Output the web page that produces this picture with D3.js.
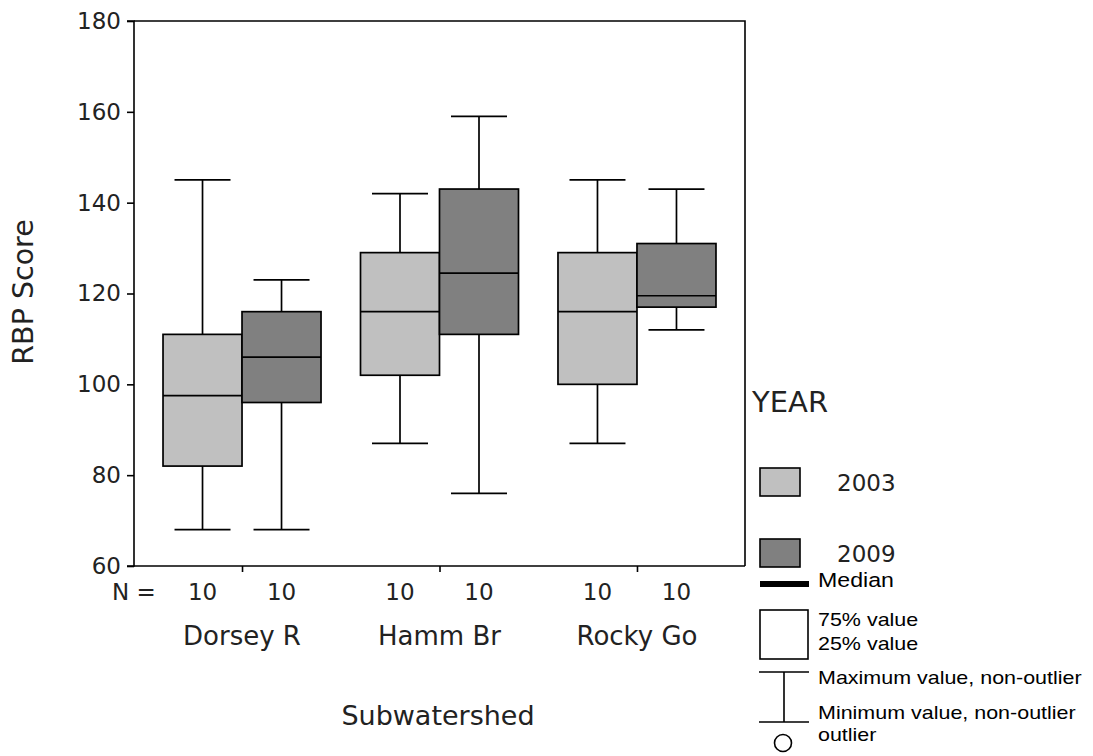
<!DOCTYPE html>
<html>
<head>
<meta charset="utf-8">
<script src="https://cdn.jsdelivr.net/npm/d3@7"></script>
<style>
  body { margin: 0; background: #fff; }
  svg { display: block; }
  .lab { font-family: 'DejaVu Sans', sans-serif; fill: #222; }
  .note { font-family: 'Liberation Sans', Arial, sans-serif; fill: #000; }
</style>
</head>
<body>
<svg></svg>
<script>
var width = 1093;
var height = 756;

// chart values
var subwatersheds = ['Dorsey R', 'Hamm Br', 'Rocky Go'];
var years = ['2003', '2009'];
var nCounts = [[10, 10], [10, 10], [10, 10]];
var lowWhisker = [[68, 68], [87, 76], [87, 112]];
var q1 = [[82, 96], [102, 111], [100, 117]];
var medians = [[97.5, 106], [116, 124.5], [116, 119.5]];
var q3 = [[111, 116], [129, 143], [129, 131]];
var highWhisker = [[145, 123], [142, 159], [145, 143]];
var yTicks = [60, 80, 100, 120, 140, 160, 180];
var yearColors = ['#c0c0c0', '#808080'];

var plotLeft = 134, plotRight = 745, plotTop = 21, plotBottom = 566;

var svg = d3.select('svg')
    .attr('width', width)
    .attr('height', height);

var y = d3.scaleLinear().domain([60, 180]).range([plotBottom, plotTop]);
var x0 = d3.scalePoint().domain(subwatersheds).range([plotLeft, plotRight]).padding(0.547);
var x1 = d3.scaleBand().domain(years).range([-79, 79]);
var color = d3.scaleOrdinal().domain(years).range(yearColors);

// frame (top and right)
svg.append('path')
    .attr('d', 'M' + plotLeft + ',' + plotTop + 'H' + plotRight + 'V' + plotBottom)
    .attr('fill', 'none')
    .attr('stroke', '#000')
    .attr('stroke-width', 1.6);

var yAxis = svg.append('g')
    .attr('transform', 'translate(' + plotLeft + ',0)')
    .call(d3.axisLeft(y).tickValues(yTicks).tickSize(7).tickPadding(6));

var xAxis = svg.append('g')
    .attr('transform', 'translate(0,' + plotBottom + ')')
    .call(d3.axisBottom(x0).tickSize(6).tickFormat(''));

[yAxis, xAxis].forEach(function(ax) {
  ax.select('.domain').attr('stroke', '#000').attr('stroke-width', 1.6);
  ax.selectAll('.tick line').attr('stroke', '#000').attr('stroke-width', 1.6);
});
yAxis.select('.domain').attr('d', 'M-7,' + plotBottom + 'H0V' + plotTop + 'H-7');
xAxis.select('.domain').attr('d', 'M' + plotLeft + ',0H' + plotRight);
yAxis.selectAll('.tick text')
    .attr('class', 'lab')
    .attr('font-size', 23)
    .attr('fill', '#222');

// boxes
var boxData = [];
subwatersheds.forEach(function(s, i) {
  years.forEach(function(yr, j) {
    boxData.push({
      group: s, year: yr, n: nCounts[i][j],
      lo: lowWhisker[i][j], q1: q1[i][j], med: medians[i][j],
      q3: q3[i][j], hi: highWhisker[i][j]
    });
  });
});

var bw = x1.bandwidth();
var box = svg.append('g')
    .selectAll('g')
    .data(boxData)
    .enter().append('g')
    .attr('transform', function(d) { return 'translate(' + (x0(d.group) + x1(d.year)) + ',0)'; })
    .attr('stroke', '#000')
    .attr('stroke-width', 1.7);

box.append('line')
    .attr('x1', bw / 2).attr('x2', bw / 2)
    .attr('y1', function(d) { return y(d.hi); })
    .attr('y2', function(d) { return y(d.lo); });

box.append('line')
    .attr('x1', bw / 2 - 28).attr('x2', bw / 2 + 28)
    .attr('y1', function(d) { return y(d.hi); })
    .attr('y2', function(d) { return y(d.hi); });

box.append('line')
    .attr('x1', bw / 2 - 28).attr('x2', bw / 2 + 28)
    .attr('y1', function(d) { return y(d.lo); })
    .attr('y2', function(d) { return y(d.lo); });

box.append('rect')
    .attr('x', 0)
    .attr('width', bw)
    .attr('y', function(d) { return y(d.q3); })
    .attr('height', function(d) { return y(d.q1) - y(d.q3); })
    .attr('fill', function(d) { return color(d.year); });

box.append('line')
    .attr('x1', 0).attr('x2', bw)
    .attr('y1', function(d) { return y(d.med); })
    .attr('y2', function(d) { return y(d.med); });

// N row and category labels
svg.append('text')
    .attr('class', 'lab')
    .attr('x', 112).attr('y', 600)
    .attr('font-size', 23)
    .text('N =');

svg.append('g')
    .selectAll('text')
    .data(boxData)
    .enter().append('text')
    .attr('class', 'lab')
    .attr('x', function(d) { return x0(d.group) + x1(d.year) + bw / 2; })
    .attr('y', 600)
    .attr('font-size', 23)
    .attr('text-anchor', 'middle')
    .text(function(d) { return d.n; });

svg.append('g')
    .selectAll('text')
    .data(subwatersheds)
    .enter().append('text')
    .attr('class', 'lab')
    .attr('x', function(d) { return x0(d); })
    .attr('y', 645)
    .attr('font-size', 26)
    .attr('text-anchor', 'middle')
    .text(function(d) { return d; });

svg.append('text')
    .attr('class', 'lab')
    .attr('x', 438).attr('y', 725)
    .attr('font-size', 27)
    .attr('text-anchor', 'middle')
    .text('Subwatershed');

svg.append('text')
    .attr('class', 'lab')
    .attr('transform', 'translate(33,292) rotate(-90)')
    .attr('font-size', 28.5)
    .attr('text-anchor', 'middle')
    .text('RBP Score');

// legend
svg.append('text')
    .attr('class', 'lab')
    .attr('x', 752).attr('y', 412)
    .attr('font-size', 29)
    .text('YEAR');

var legY = [468, 539];
var leg = svg.append('g')
    .selectAll('g')
    .data(years)
    .enter().append('g')
    .attr('transform', function(d, i) { return 'translate(760,' + legY[i] + ')'; });

leg.append('rect')
    .attr('width', 40).attr('height', 28)
    .attr('fill', function(d) { return color(d); })
    .attr('stroke', '#000')
    .attr('stroke-width', 1.6);

leg.append('text')
    .attr('class', 'lab')
    .attr('x', 77).attr('y', 23)
    .attr('font-size', 23)
    .text(function(d) { return d; });

// key of box parts
var key = svg.append('g');
key.append('rect')
    .attr('x', 760).attr('y', 581).attr('width', 49).attr('height', 6)
    .attr('fill', '#000');
key.append('rect')
    .attr('x', 760).attr('y', 610).attr('width', 48).attr('height', 49)
    .attr('fill', '#fff').attr('stroke', '#000').attr('stroke-width', 1.6);
key.append('path')
    .attr('d', 'M759,672H809M784,672V722M759,722H809')
    .attr('fill', 'none').attr('stroke', '#000').attr('stroke-width', 1.6);
key.append('circle')
    .attr('cx', 783).attr('cy', 743).attr('r', 8.5)
    .attr('fill', '#fff').attr('stroke', '#000').attr('stroke-width', 1.6);

var keyLabels = ['Median', '75% value', '25% value', 'Maximum value, non-outlier', 'Minimum value, non-outlier', 'outlier'];
var keyBase = [587, 626, 650, 684, 719, 741];
var keySize = [20.5, 19, 19, 19, 19, 19];
key.selectAll('text.note')
    .data(keyLabels)
    .enter().append('text')
    .attr('class', 'note')
    .attr('transform', function(d, i) { return 'translate(818,' + keyBase[i] + ') scale(1.13,1)'; })
    .attr('font-size', function(d, i) { return keySize[i]; })
    .text(function(d) { return d; });
</script>
</body>
</html>
